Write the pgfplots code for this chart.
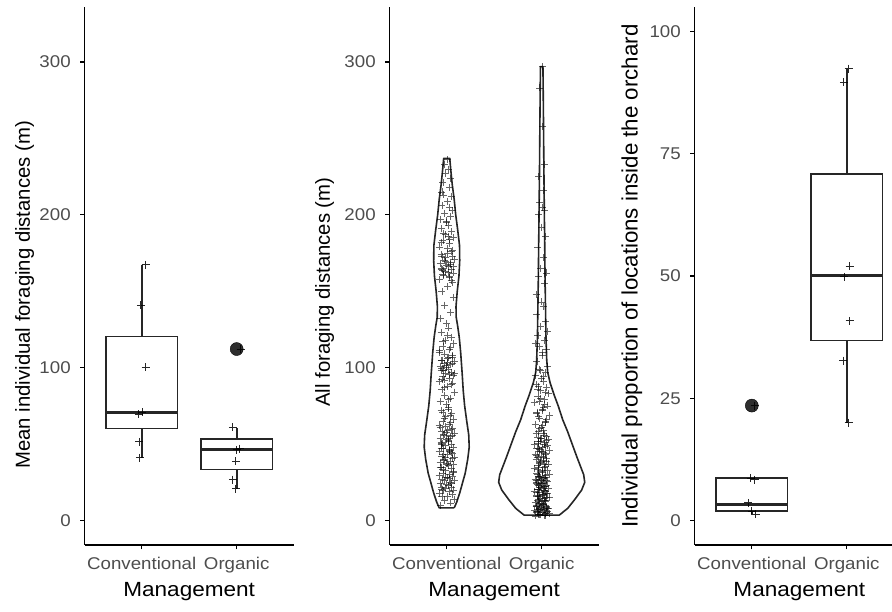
\documentclass[border=0pt]{standalone}
\usepackage{fontspec}
\setmainfont{Liberation Sans}[FakeStretch=1.1]
\newfontfamily\rotfont{Liberation Sans}
\usepackage{pgfplots}
\pgfplotsset{compat=1.18}
\usepgfplotslibrary{statistics}
\definecolor{tickgray}{HTML}{4D4D4D}
\definecolor{boxgray}{HTML}{262626}
\pgfplotsset{
  ggpanel/.style={
    scale only axis, width=209pt, height=538pt,
    anchor=south west,
    xmin=0.4, xmax=2.6,
    axis x line*=bottom, axis y line*=left,
    axis line style={line width=1.1pt, black, -},
    tick align=outside, major tick length=4.5pt,
    every tick/.style={line width=1.1pt, black},
    xtick={1,2}, xticklabels={Conventional, Organic},
    tick label style={font=\fontsize{17}{20}\selectfont, text=tickgray},
    /pgf/number format/assume math mode=true,
    xticklabel style={anchor=base, yshift=-20pt},
    yticklabel style={anchor=east, xshift=-6pt},
    xlabel={Management},
    xlabel style={at={(axis description cs:0.5,0)}, anchor=base, yshift=-52pt, font=\fontsize{20.5}{24}\selectfont},
    ylabel style={anchor=center, font=\rotfont\fontsize{20.3}{24}\selectfont},
    boxplot/draw direction=y,
    boxplot/every box/.style={draw=boxgray, line width=1.6pt, fill=white},
    boxplot/every whisker/.style={draw=boxgray, line width=1.6pt},
    boxplot/every median/.style={draw=boxgray, line width=3pt},
    clip=false,
  },
  pts/.style={only marks, mark=+, mark size=4pt, mark options={line width=1pt, draw=black, draw opacity=0.85}},
  vpts/.style={only marks, mark=+, mark size=3.5pt, mark options={line width=0.8pt, draw=black, draw opacity=0.6}},
  outl/.style={only marks, mark=*, mark size=6.5pt, mark options={fill=black!82, draw=none}},
  bx/.style={draw=boxgray, line width=1.6pt, fill=white, solid, mark=none},
  vio/.style={draw=boxgray, line width=1.6pt, fill=white, mark=none, line join=round},
}
\begin{document}
\begin{tikzpicture}
\path[use as bounding box] (0,0) rectangle (892pt,612pt);
% ---------------- Panel 1 ----------------
\begin{axis}[ggpanel, at={(84.7pt,67pt)},
  ymin=-16, ymax=336, ytick={0,100,200,300},
  ylabel={Mean individual foraging distances (m)},
  ylabel style={at={(axis description cs:-0.288,0.465)}}]
\addplot[bx, boxplot prepared={draw position=1, lower whisker=41.0, lower quartile=60.2, median=70.8, upper quartile=120.5, upper whisker=167.3, box extend=0.75, whisker extend=0}] coordinates {};
\addplot[bx, boxplot prepared={draw position=2, lower whisker=20.7, lower quartile=33.3, median=46.4, upper quartile=53.4, upper whisker=60.8, box extend=0.75, whisker extend=0}] coordinates {};
\addplot[outl] coordinates {(2,112.2)};
\addplot[pts] coordinates {(1.04,167.3) (0.99,140.7) (1.04,100.2) (1.005,70.8) (0.97,69.7) (0.975,51.4) (0.98,41.0)};
\addplot[pts] coordinates {(1.96,61.2) (2.03,47.1) (2.0,46.2) (1.99,38.8) (1.96,26.8) (1.99,20.7) (2.04,112.2)};
\end{axis}
% ---------------- Panel 2 ----------------
\begin{axis}[ggpanel, at={(389.7pt,67pt)},
  ymin=-16, ymax=336, ytick={0,100,200,300},
  ylabel={All foraging distances (m)},
  ylabel style={at={(axis description cs:-0.311,0.47)}}]
\addplot[vio] coordinates {
(1.079,8.3) (1.105,12) (1.137,18) (1.168,25) (1.195,31) (1.221,40) (1.237,48) (1.232,56) (1.211,65) (1.189,75) (1.174,85) (1.163,96) (1.147,110) (1.132,120) (1.116,127) (1.100,133) (1.098,140) (1.111,150) (1.129,160) (1.137,170) (1.135,180) (1.116,190) (1.095,200) (1.079,210) (1.058,220) (1.042,230) (1.032,237)
(0.968,237) (0.958,230) (0.942,220) (0.921,210) (0.905,200) (0.884,190) (0.865,180) (0.863,170) (0.871,160) (0.889,150) (0.902,140) (0.900,133) (0.884,127) (0.868,120) (0.853,110) (0.837,96) (0.826,85) (0.811,75) (0.789,65) (0.768,56) (0.763,48) (0.779,40) (0.805,31) (0.832,25) (0.863,18) (0.895,12) (0.921,8.3) (1.079,8.3)};
\addplot[vio] coordinates {
(2.184,3.5) (2.274,8) (2.347,13.7) (2.421,20) (2.453,25) (2.442,30) (2.411,35) (2.368,42) (2.321,50) (2.274,58) (2.221,66) (2.174,75) (2.132,82) (2.089,90) (2.063,97) (2.053,105) (2.045,120) (2.040,140) (2.035,160) (2.032,180) (2.028,200) (2.023,230) (2.019,260) (2.016,280) (2.013,297)
(1.987,297) (1.984,280) (1.981,260) (1.977,230) (1.972,200) (1.968,180) (1.965,160) (1.960,140) (1.955,120) (1.947,105) (1.937,97) (1.911,90) (1.868,82) (1.826,75) (1.779,66) (1.726,58) (1.679,50) (1.632,42) (1.589,35) (1.558,30) (1.547,25) (1.579,20) (1.653,13.7) (1.726,8) (1.816,3.5) (2.184,3.5)};
\addplot[vpts] coordinates {
(0.93,10) (1.04,11.5) (0.98,13) (1.08,14) (0.95,15.5) (1.01,16) (1.06,17) (0.92,18) (1.03,19) (0.96,19.5)
(1.07,20) (0.99,21) (1.05,21.5) (0.94,22) (1.02,23) (1.00,23.5) (0.93,24) (1.04,25) (0.98,26) (1.08,26.5)
(0.95,27) (1.01,28) (1.06,29) (0.92,29.5) (1.03,30) (0.96,31) (1.07,32) (0.99,33) (1.05,34) (0.94,35)
(1.02,36) (1.00,37) (0.93,38) (1.04,39) (0.98,40) (1.08,41) (0.95,42) (1.01,43) (1.06,44) (0.92,45)
(1.03,46) (0.96,47) (1.07,48) (0.99,49) (1.05,50) (0.94,51) (1.02,52) (1.00,53) (0.93,54) (1.04,55)
(0.98,56) (1.08,57) (0.95,58) (1.01,59) (1.06,60) (0.92,62) (1.03,63) (0.96,65) (1.07,66) (0.99,68)
(1.05,70) (0.94,72) (1.02,74) (1.00,76) (0.93,78) (1.04,80) (0.98,82) (1.08,84) (0.95,86) (1.01,88)
(1.06,90) (0.92,91) (1.03,93) (0.96,94) (1.07,95) (0.99,96) (1.05,97) (0.94,98) (1.02,99) (1.00,100)
(0.93,101) (1.04,102) (0.98,103) (1.08,104) (0.95,105) (1.01,106) (1.06,108) (0.92,110) (1.03,112) (0.96,114)
(1.07,116) (0.99,118) (1.05,120) (0.94,123) (1.02,126) (1.00,129) (0.93,132) (1.04,136) (0.98,141) (1.07,146)
(0.95,150) (1.01,153) (1.06,156) (0.92,158) (1.03,160) (0.96,161) (1.07,162) (0.99,163) (1.05,164) (0.94,165)
(1.02,166) (1.00,167) (0.93,168) (1.04,169) (0.98,170) (1.08,171) (0.95,173) (1.01,175) (1.06,177) (0.92,179)
(1.03,181) (0.96,183) (1.07,185) (0.99,187) (1.05,189) (0.94,191) (1.02,193) (1.00,195) (0.93,197) (1.04,199)
(0.98,201) (1.06,203) (0.95,206) (1.01,209) (1.05,212) (0.95,215) (1.03,218) (0.96,221) (1.04,224) (0.99,227)
(1.02,230) (0.98,233) (1.01,236)
(1.03,27.5) (0.96,33.5) (1.07,36.5) (0.99,41.5) (1.05,44.5) (0.94,47.5) (1.02,52.5) (1.00,57.5) (0.93,61) (1.04,64)
(0.98,92) (1.08,96.5) (0.95,99.5) (1.01,103.5) (1.06,107) (0.92,111) (1.03,159) (0.96,163.5) (1.07,166.5) (0.99,172)
(1.05,176) (0.94,182) (1.02,186) (0.97,39.5) (1.03,45.5) (0.95,50.5) (1.06,55.5) (0.98,67) (1.02,73)
(0.95,20.5) (1.05,24.5) (0.99,28.5) (1.07,31.5) (0.93,34.5) (1.01,37.5) (1.06,40.5) (0.96,43.5) (1.03,46.5) (0.94,49.5)
(1.02,53.5) (0.97,56.5) (1.05,59.5) (0.99,61.5) (1.04,68.5) (0.96,71) (1.02,79) (0.98,87) (1.05,89) (0.95,92.5)
(1.03,95.5) (0.97,98.5) (1.00,101.5) (1.06,102.5) (0.94,104.5) (1.02,106.5) (0.98,109) (1.04,113) (0.96,117) (1.01,121)
(1.05,157) (0.97,160.5) (1.02,162.5) (0.95,164.5) (1.04,167.5) (0.99,169.5) (1.06,172.5) (0.94,174) (1.01,178) (1.03,184)
(0.97,188) (1.00,196) (1.03,205) (0.97,213)};
\addplot[vpts] coordinates {
(1.93,3) (2.04,3.5) (1.98,4) (2.08,4.5) (1.95,5) (2.01,5.5) (2.06,6) (1.92,6.5) (2.03,7) (1.96,7.5)
(2.07,8) (1.99,8.5) (2.05,9) (1.94,9.5) (2.02,10) (2.00,11) (1.93,12) (2.04,13) (1.98,14) (2.08,15)
(1.95,16) (2.01,17) (2.06,18) (1.92,19) (2.03,20) (1.96,20.5) (2.07,21) (1.99,22) (2.05,23) (1.94,24)
(2.02,25) (2.00,26) (1.93,27) (2.04,28) (1.98,29) (2.08,30) (1.95,31) (2.01,32) (2.06,33) (1.92,34)
(2.03,35) (1.96,36) (2.07,37) (1.99,38) (2.05,39) (1.94,40) (2.02,41) (2.00,42) (1.93,43) (2.04,44)
(1.98,45) (2.08,46) (1.95,47) (2.01,48) (2.06,49) (1.92,50) (2.03,51) (1.96,52) (2.07,53) (1.99,54)
(2.05,55) (1.94,57) (2.02,59) (2.00,61) (1.93,63) (2.04,65) (1.98,67) (2.08,69) (1.95,71) (2.01,73)
(2.06,75) (1.92,77) (2.03,79) (1.96,81) (2.07,83) (1.99,85) (2.05,87) (1.94,89) (2.02,91) (2.00,93)
(1.93,95) (2.04,97) (1.98,99) (2.06,101) (1.95,104) (2.01,108) (2.05,112) (1.93,116) (2.03,118) (1.96,121)
(2.06,124) (1.99,127) (2.04,130) (1.95,135) (2.02,140) (2.00,143) (1.94,148) (2.03,155) (1.97,160) (2.05,162)
(1.99,165) (2.02,172) (1.96,179) (2.04,186) (2.00,192) (1.97,200) (2.03,203) (2.01,205) (1.98,208) (2.02,216)
(1.97,225) (2.03,233) (2.01,258) (1.98,283) (2.01,297)
(2.03,3.2) (1.97,4.2) (2.05,5.2) (1.95,6.2) (2.00,7.2) (2.06,8.2) (1.94,9.2) (2.02,10.5) (1.98,11.5) (2.04,12.5)
(1.96,13.5) (2.03,14.5) (1.97,15.5) (2.01,16.5) (2.05,17.5) (1.95,18.5) (2.02,19.5) (1.98,21.5) (2.04,22.5) (1.96,23.5)
(2.00,24.5) (2.06,25.5) (1.94,26.5) (2.02,27.5) (1.98,28.5) (2.04,29.5) (1.96,30.5) (2.01,32.5) (1.97,34.5) (2.03,36.5)
(1.99,38.5) (2.05,40.5) (1.95,42.5) (2.02,44.5) (1.98,46.5) (2.04,48.5) (1.96,50.5) (2.00,53.5) (2.03,56) (1.97,58)
(2.01,62) (2.05,66) (1.95,70) (2.02,74) (1.98,78) (2.04,84) (1.97,88)
(1.99,3.8) (2.04,4.8) (1.96,5.8) (2.02,6.8) (1.98,7.8) (2.05,8.8) (1.95,9.8) (2.01,10.8) (1.97,12.2) (2.03,13.2)
(1.99,14.2) (2.05,15.2) (1.95,16.2) (2.02,17.2) (1.98,18.2) (2.04,19.2) (1.96,20.2) (2.00,21.2) (2.03,22.2) (1.97,23.2)
(2.01,24.2) (1.95,25.2) (2.05,26.2) (1.99,27.2) (2.03,28.2) (1.97,29.2) (2.01,31.2) (1.96,33.2) (2.04,35.2) (1.98,37.2)
(2.02,39.5) (1.96,41.5) (2.04,43.5) (2.00,45.5) (1.97,47.5) (2.03,49.5) (1.99,51.5) (2.05,52.5) (1.96,54.5) (2.02,57)
(1.98,60) (2.04,64) (1.97,68) (2.01,72) (2.03,76) (1.99,80) (1.96,86) (2.02,94) (1.99,98) (2.01,110) (1.98,114)};
\end{axis}
% ---------------- Panel 3 ----------------
\begin{axis}[ggpanel, at={(694.8pt,67pt)},
  ymin=-5, ymax=105, ytick={0,25,50,75,100},
  ylabel={Individual proportion of locations inside the orchard},
  ylabel style={at={(axis description cs:-0.301,0.5)}, font=\rotfont\fontsize{22.3}{26}\selectfont}]
\addplot[bx, boxplot prepared={draw position=1, lower whisker=1.3, lower quartile=1.9, median=3.3, upper quartile=8.7, upper whisker=9.0, box extend=0.75, whisker extend=0}] coordinates {};
\addplot[bx, boxplot prepared={draw position=2, lower whisker=20.0, lower quartile=36.8, median=50.0, upper quartile=70.8, upper whisker=92.4, box extend=0.75, whisker extend=0}] coordinates {};
\addplot[outl] coordinates {(1,23.5)};
\addplot[pts] coordinates {(0.99,8.65) (1.03,8.3) (0.96,3.6) (1.0,1.9) (1.04,1.3) (1.03,23.5)};
\addplot[pts] coordinates {(2.02,92.4) (1.97,89.6) (2.03,52.0) (1.975,49.8) (2.03,40.8) (1.96,32.7) (2.02,20.0)};
\end{axis}
\end{tikzpicture}
\end{document}
